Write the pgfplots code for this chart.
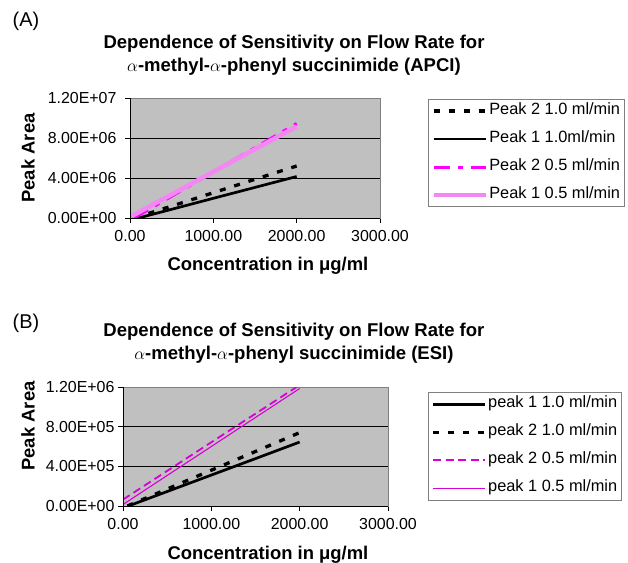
\documentclass[border=0pt]{standalone}
\usepackage{pgfplots}
\pgfplotsset{compat=1.18}
\usepackage{fontspec}
\setmainfont{Liberation Sans}
\definecolor{plotgray}{RGB}{192,192,192}
\definecolor{framegray}{RGB}{128,128,128}
\definecolor{mag}{RGB}{255,0,255}
\definecolor{pinkv}{RGB}{245,135,245}
\definecolor{magB}{RGB}{215,0,215}
\newcommand\tickfont{\fontsize{16}{18}\selectfont}
\newcommand\titlefont{\fontsize{18.6}{23}\selectfont\bfseries}
\newcommand\labfont{\fontsize{18.5}{21}\selectfont\bfseries}
\newcommand\legfont{\fontsize{16.4}{18}\selectfont}
\pgfplotsset{
  excel/.style={
    scale only axis,
    clip mode=individual,
    axis background/.style={fill=plotgray},
    axis line style={draw=framegray},
    xmin=0, xmax=3000,
    xtick={0,1000,2000,3000},
    xticklabels={0.00,1000.00,2000.00,3000.00},
    scaled y ticks=false,
    scaled x ticks=false,
    xtick pos=left, ytick pos=left,
    tick align=outside,
    major tick length=5bp,
    tick style={black, line width=0.8pt},
    ymajorgrids, grid style={black, line width=0.6pt},
    tick label style={font=\tickfont},
    xticklabel style={yshift=-4bp},
    /pgf/number format/assume math mode=true,
    xlabel style={font=\labfont},
    ylabel style={font=\labfont},
    title style={font=\titlefont, align=center, anchor=center},
    legend cell align=left,
    legend style={draw=framegray, line width=0.8pt, fill=white, font=\legfont,
      anchor=north west, inner xsep=3bp, inner ysep=3bp,
      nodes={inner sep=1.5bp, text height=11bp, text depth=3.5bp}},
    legend image code/.code={\draw[#1] (0bp,0bp) -- (52bp,0bp);},
  }
}
\begin{document}
\begin{tikzpicture}
\useasboundingbox (0bp,0bp) rectangle (628bp,-563bp);
% ---------------- (A) ----------------
\begin{axis}[excel,
  at={(130bp,-218bp)}, anchor=south west,
  width=250bp, height=120bp,
  ymin=0, ymax=1.2e7,
  ytick={0,4e6,8e6,1.2e7},
  yticklabels={0.00E+00,4.00E+06,8.00E+06,1.20E+07},
  yticklabel style={xshift=-5bp},
  title={Dependence of Sensitivity on Flow Rate for\\$\alpha$-methyl-$\alpha$-phenyl succinimide (APCI)},
  title style={at={(axis description cs:0.656,1.31)}},
  xlabel={Concentration in μg/ml},
  xlabel style={at={(axis description cs:0.552,-0.40)}, anchor=center},
  ylabel={Peak Area},
  ylabel style={at={(axis description cs:-0.408,0.5)}, anchor=center},
  legend style={at={(axis description cs:1.192,0.992)}, legend columns=1, row sep=10.5bp},
]
\addplot[draw=black, line width=3.3bp, dash pattern=on 6bp off 9bp] coordinates {(50,0) (500,1.19e6) (1000,2.53e6) (1500,3.87e6) (2000,5.2e6)};
\addlegendentry{Peak 2 1.0 ml/min}
\addplot[draw=black, line width=2.7bp] coordinates {(100,0) (500,0.87e6) (1000,1.97e6) (1500,3.06e6) (2000,4.15e6)};
\addlegendentry{Peak 1 1.0ml/min}
\addplot[draw=mag, line width=3bp, dash pattern=on 16bp off 8bp on 5bp off 8bp] coordinates {(50,0) (500,2.18e6) (1000,4.6e6) (1500,7.03e6) (2000,9.45e6)};
\addlegendentry{Peak 2 0.5 ml/min}
\addplot[draw=pinkv, line width=4.4bp] coordinates {(0,1.0e5) (500,2.36e6) (1000,4.62e6) (1500,6.89e6) (2000,9.15e6)};
\addlegendentry{Peak 1 0.5 ml/min}
\draw[black, line width=0.8pt] (rel axis cs:0,1) -- (rel axis cs:0,0) -- (rel axis cs:1,0);
\node[font=\fontsize{20}{22}\selectfont, anchor=center] at (axis description cs:-0.416,1.64) {(A)};
\end{axis}
% ---------------- (B) ----------------
\begin{axis}[excel,
  at={(123bp,-506bp)}, anchor=south west,
  width=265bp, height=119bp,
  ymin=0, ymax=1.2e6,
  ytick={0,4e5,8e5,1.2e6},
  yticklabels={0.00E+00,4.00E+05,8.00E+05,1.20E+06},
  title={Dependence of Sensitivity on Flow Rate for\\$\alpha$-methyl-$\alpha$-phenyl succinimide (ESI)},
  title style={at={(axis description cs:0.645,1.32)}},
  xlabel={Concentration in μg/ml},
  xlabel style={at={(axis description cs:0.547,-0.41)}, anchor=center},
  ylabel={Peak Area},
  ylabel style={at={(axis description cs:-0.358,0.672)}, anchor=center},
  legend style={at={(axis description cs:1.151,0.958)}, legend columns=1, row sep=10.5bp},
]
\addplot[draw=black, line width=2.7bp] coordinates {(60,0) (500,1.46e5) (1000,3.12e5) (1500,4.78e5) (2000,6.45e5)};
\addlegendentry{peak 1 1.0 ml/min}
\addplot[draw=black, line width=3.3bp, dash pattern=on 6bp off 9bp] coordinates {(50,0) (500,1.71e5) (1000,3.61e5) (1500,5.5e5) (2000,7.4e5)};
\addlegendentry{peak 2 1.0 ml/min}
\addplot[draw=magB, line width=1.8bp, dash pattern=on 8bp off 4.5bp] coordinates {(0,6.5e4) (500,3.54e5) (1000,6.43e5) (1500,9.31e5) (2000,1.22e6)};
\addlegendentry{peak 2 0.5 ml/min}
\addplot[draw=magB, line width=1.1bp] coordinates {(0,1.5e4) (500,3.08e5) (1000,6.0e5) (1500,8.93e5) (2000,1.185e6)};
\addlegendentry{peak 1 0.5 ml/min}
\draw[black, line width=0.8pt] (rel axis cs:0,1) -- (rel axis cs:0,0) -- (rel axis cs:1,0);
\node[font=\fontsize{20}{22}\selectfont, anchor=center] at (axis description cs:-0.366,1.538) {(B)};
\end{axis}
\end{tikzpicture}
\end{document}
